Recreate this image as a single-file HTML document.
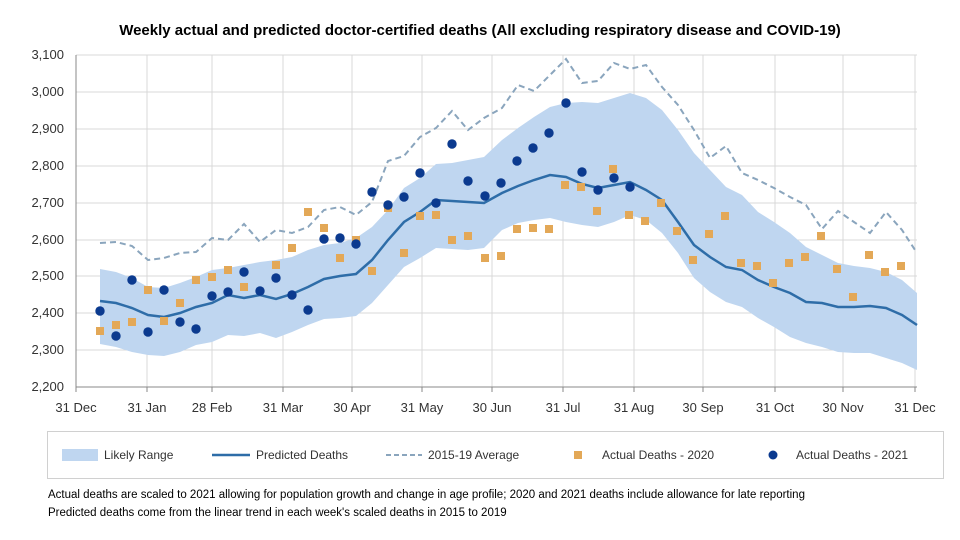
<!DOCTYPE html>
<html><head><meta charset="utf-8"><style>
html,body{margin:0;padding:0;background:#fff;}
svg{display:block;font-family:"Liberation Sans",Arial,sans-serif;}
</style></head><body>
<svg width="960" height="540" viewBox="0 0 960 540" xmlns="http://www.w3.org/2000/svg">
<text x="480" y="35" text-anchor="middle" font-size="15" font-weight="bold" fill="#000">Weekly actual and predicted doctor-certified deaths (All excluding respiratory disease and COVID-19)</text>
<g stroke="#d9d9d9" stroke-width="1">
<line x1="76" y1="55" x2="917" y2="55"/><line x1="76" y1="92" x2="917" y2="92"/><line x1="76" y1="129" x2="917" y2="129"/><line x1="76" y1="166" x2="917" y2="166"/><line x1="76" y1="203" x2="917" y2="203"/><line x1="76" y1="240" x2="917" y2="240"/><line x1="76" y1="276" x2="917" y2="276"/><line x1="76" y1="313" x2="917" y2="313"/><line x1="76" y1="350" x2="917" y2="350"/>
<line x1="147" y1="55" x2="147" y2="387"/><line x1="212" y1="55" x2="212" y2="387"/><line x1="283" y1="55" x2="283" y2="387"/><line x1="352" y1="55" x2="352" y2="387"/><line x1="422" y1="55" x2="422" y2="387"/><line x1="492" y1="55" x2="492" y2="387"/><line x1="563" y1="55" x2="563" y2="387"/><line x1="634" y1="55" x2="634" y2="387"/><line x1="703" y1="55" x2="703" y2="387"/><line x1="775" y1="55" x2="775" y2="387"/><line x1="843" y1="55" x2="843" y2="387"/><line x1="915" y1="55" x2="915" y2="387"/>
</g>
<polygon fill="#bfd6f0" points="100,269 116,272 132,278 148,287 164,288 180,283 196,277 212,270 228,268 244,265 260,262 276,260 292,257 308,250 324,245 340,243 356,238 372,227 388,210 404,188 420,178 436,164 452,163 468,160 484,157 502,140 518,128 534,117 550,107 566,103 582,102 598,103 614,98 630,93 646,98 662,110 678,130 694,153 710,170 726,187 742,195 758,212 774,222 790,233 806,247 822,255 838,263 854,266 870,268 886,272 902,280 917,293 917,370 902,363 886,358 870,353 854,353 838,352 822,347 806,343 790,337 774,327 758,318 742,307 726,302 710,292 694,278 678,253 662,233 646,220 630,215 614,222 598,227 582,225 566,222 550,218 534,220 518,223 502,230 484,248 468,250 452,249 436,248 420,258 404,267 388,285 372,303 356,316 340,318 324,319 308,325 292,332 276,338 260,333 244,336 228,335 212,342 196,345 180,352 164,356 148,355 132,352 116,347 100,344"/>
<polyline fill="none" stroke="#8aa5bd" stroke-width="2" stroke-dasharray="6,4" points="100,243 116,242 132,246 148,260 164,258 180,253 196,252 212,238 228,240 244,224 260,242 276,230 292,233 308,227 324,210 340,207 356,215 372,202 388,161 404,156 420,137 436,128 452,111 468,130 484,118 502,108 518,85 534,91 550,75 566,59 582,83 598,81 614,63 630,69 646,65 662,87 678,105 694,130 710,158 726,146 742,173 758,180 774,188 790,197 806,205 822,229 838,211 854,222 870,233 886,212 902,230 917,253"/>
<polyline fill="none" stroke="#2e6da8" stroke-width="2.5" points="100,301 116,303 132,308 148,315 164,317 180,313 196,307 212,303 228,295 244,298 260,295 276,299 292,294 308,287 324,279 340,276 356,274 372,260 388,240 404,222 420,212 436,200 452,201 468,202 484,203 502,193 518,186 534,180 550,175 566,177 582,184 598,188 614,185 630,182 646,190 662,200 678,222 694,245 710,257 726,267 742,270 758,280 774,287 790,293 806,302 822,303 838,307 854,307 870,306 886,308 902,315 917,325"/>
<g fill="#e3a857">
<rect x="96" y="327" width="8" height="8"/><rect x="112" y="321" width="8" height="8"/><rect x="128" y="318" width="8" height="8"/><rect x="144" y="286" width="8" height="8"/><rect x="160" y="317" width="8" height="8"/><rect x="176" y="299" width="8" height="8"/><rect x="192" y="276" width="8" height="8"/><rect x="208" y="273" width="8" height="8"/><rect x="224" y="266" width="8" height="8"/><rect x="240" y="283" width="8" height="8"/><rect x="272" y="261" width="8" height="8"/><rect x="288" y="244" width="8" height="8"/><rect x="304" y="208" width="8" height="8"/><rect x="320" y="224" width="8" height="8"/><rect x="336" y="254" width="8" height="8"/><rect x="352" y="236" width="8" height="8"/><rect x="368" y="267" width="8" height="8"/><rect x="384" y="204" width="8" height="8"/><rect x="400" y="249" width="8" height="8"/><rect x="416" y="212" width="8" height="8"/><rect x="432" y="211" width="8" height="8"/><rect x="448" y="236" width="8" height="8"/><rect x="464" y="232" width="8" height="8"/><rect x="481" y="254" width="8" height="8"/><rect x="497" y="252" width="8" height="8"/><rect x="513" y="225" width="8" height="8"/><rect x="529" y="224" width="8" height="8"/><rect x="545" y="225" width="8" height="8"/><rect x="561" y="181" width="8" height="8"/><rect x="577" y="183" width="8" height="8"/><rect x="593" y="207" width="8" height="8"/><rect x="609" y="165" width="8" height="8"/><rect x="625" y="211" width="8" height="8"/><rect x="641" y="217" width="8" height="8"/><rect x="657" y="199" width="8" height="8"/><rect x="673" y="227" width="8" height="8"/><rect x="689" y="256" width="8" height="8"/><rect x="705" y="230" width="8" height="8"/><rect x="721" y="212" width="8" height="8"/><rect x="737" y="259" width="8" height="8"/><rect x="753" y="262" width="8" height="8"/><rect x="769" y="279" width="8" height="8"/><rect x="785" y="259" width="8" height="8"/><rect x="801" y="253" width="8" height="8"/><rect x="817" y="232" width="8" height="8"/><rect x="833" y="265" width="8" height="8"/><rect x="849" y="293" width="8" height="8"/><rect x="865" y="251" width="8" height="8"/><rect x="881" y="268" width="8" height="8"/><rect x="897" y="262" width="8" height="8"/>
</g>
<g fill="#0b3a8f">
<circle cx="100" cy="311" r="4.7"/><circle cx="116" cy="336" r="4.7"/><circle cx="132" cy="280" r="4.7"/><circle cx="148" cy="332" r="4.7"/><circle cx="164" cy="290" r="4.7"/><circle cx="180" cy="322" r="4.7"/><circle cx="196" cy="329" r="4.7"/><circle cx="212" cy="296" r="4.7"/><circle cx="228" cy="292" r="4.7"/><circle cx="244" cy="272" r="4.7"/><circle cx="260" cy="291" r="4.7"/><circle cx="276" cy="278" r="4.7"/><circle cx="292" cy="295" r="4.7"/><circle cx="308" cy="310" r="4.7"/><circle cx="324" cy="239" r="4.7"/><circle cx="340" cy="238" r="4.7"/><circle cx="356" cy="244" r="4.7"/><circle cx="372" cy="192" r="4.7"/><circle cx="388" cy="205" r="4.7"/><circle cx="404" cy="197" r="4.7"/><circle cx="420" cy="173" r="4.7"/><circle cx="436" cy="203" r="4.7"/><circle cx="452" cy="144" r="4.7"/><circle cx="468" cy="181" r="4.7"/><circle cx="485" cy="196" r="4.7"/><circle cx="501" cy="183" r="4.7"/><circle cx="517" cy="161" r="4.7"/><circle cx="533" cy="148" r="4.7"/><circle cx="549" cy="133" r="4.7"/><circle cx="566" cy="103" r="4.7"/><circle cx="582" cy="172" r="4.7"/><circle cx="598" cy="190" r="4.7"/><circle cx="614" cy="178" r="4.7"/><circle cx="630" cy="187" r="4.7"/>
</g>
<g stroke="#888" stroke-width="1">
<line x1="76" y1="55" x2="76" y2="387"/><line x1="76" y1="387" x2="917" y2="387"/>
<line x1="76" y1="387" x2="76" y2="392"/><line x1="147" y1="387" x2="147" y2="392"/><line x1="212" y1="387" x2="212" y2="392"/><line x1="283" y1="387" x2="283" y2="392"/><line x1="352" y1="387" x2="352" y2="392"/><line x1="422" y1="387" x2="422" y2="392"/><line x1="492" y1="387" x2="492" y2="392"/><line x1="563" y1="387" x2="563" y2="392"/><line x1="634" y1="387" x2="634" y2="392"/><line x1="703" y1="387" x2="703" y2="392"/><line x1="775" y1="387" x2="775" y2="392"/><line x1="843" y1="387" x2="843" y2="392"/><line x1="915" y1="387" x2="915" y2="392"/>
</g>
<g font-size="13" fill="#333" text-anchor="end">
<text x="64" y="59">3,100</text><text x="64" y="96">3,000</text><text x="64" y="133">2,900</text><text x="64" y="170">2,800</text><text x="64" y="207">2,700</text><text x="64" y="244">2,600</text><text x="64" y="280">2,500</text><text x="64" y="317">2,400</text><text x="64" y="354">2,300</text><text x="64" y="391">2,200</text>
</g>
<g font-size="13" fill="#333" text-anchor="middle">
<text x="76" y="412">31 Dec</text><text x="147" y="412">31 Jan</text><text x="212" y="412">28 Feb</text><text x="283" y="412">31 Mar</text><text x="352" y="412">30 Apr</text><text x="422" y="412">31 May</text><text x="492" y="412">30 Jun</text><text x="563" y="412">31 Jul</text><text x="634" y="412">31 Aug</text><text x="703" y="412">30 Sep</text><text x="775" y="412">31 Oct</text><text x="843" y="412">30 Nov</text><text x="915" y="412">31 Dec</text>
</g>
<rect x="47.5" y="431.5" width="896" height="47" fill="none" stroke="#d0d0d0"/>
<rect x="62" y="449" width="36" height="12" fill="#bfd6f0"/>
<text x="104" y="459" font-size="12" fill="#333">Likely Range</text>
<line x1="212" y1="455" x2="250" y2="455" stroke="#2e6da8" stroke-width="2.5"/>
<text x="256" y="459" font-size="12" fill="#333">Predicted Deaths</text>
<line x1="386" y1="455" x2="422" y2="455" stroke="#8aa5bd" stroke-width="2" stroke-dasharray="5,3"/>
<text x="428" y="459" font-size="12" fill="#333">2015-19 Average</text>
<rect x="574" y="451" width="8" height="8" fill="#e3a857"/>
<text x="602" y="459" font-size="12" fill="#333">Actual Deaths - 2020</text>
<circle cx="773" cy="455" r="4.5" fill="#0b3a8f"/>
<text x="796" y="459" font-size="12" fill="#333">Actual Deaths - 2021</text>
<text x="48" y="498" font-size="11.5" fill="#000">Actual deaths are scaled to 2021 allowing for population growth and change in age profile; 2020 and 2021 deaths include allowance for late reporting</text>
<text x="48" y="516" font-size="11.5" fill="#000">Predicted deaths come from the linear trend in each week's scaled deaths in 2015 to 2019</text>
</svg>
</body></html>
